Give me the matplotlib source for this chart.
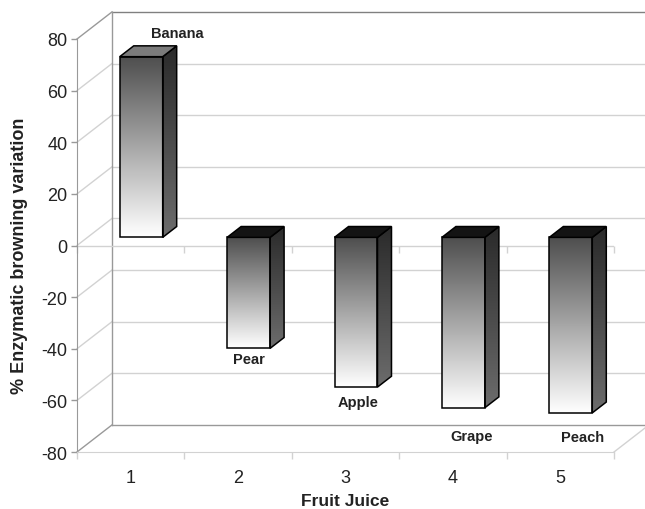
import numpy as np
import matplotlib.pyplot as plt
from matplotlib.colors import LinearSegmentedColormap
from matplotlib.patches import Polygon

# data
juices = ['Banana', 'Pear', 'Apple', 'Grape', 'Peach']
positions = [1, 2, 3, 4, 5]
browning = [70, -43, -58, -66, -68]
yticks = [-80, -60, -40, -20, 0, 20, 40, 60, 80]

plt.rcParams['font.family'] = ['Liberation Sans', 'DejaVu Sans']
plt.rcParams['axes.unicode_minus'] = False

# fake 3D box: depth offset of the back wall in data units
DX, DY = 0.326, 10.5
D0, BD = 0.3, 0.4      # bar position in depth and bar depth (fraction of box)
W = 0.40               # bar width in categories

LIGHT = '#d2d2d2'
FRAME = '#999999'

fig = plt.figure(figsize=(6.45, 5.1), dpi=100)
ax = fig.add_axes([77 / 645, 57 / 510, 537 / 645, 413 / 510])

x0, x1 = 0.5, len(positions) + 0.5
ylo, yhi = yticks[0], yticks[-1]

# back wall and side wall grid
for t in yticks:
    edge = t in (ylo, yhi)
    c = FRAME if edge else LIGHT
    ax.plot([x0 + DX, x1 + DX + 0.3], [t + DY, t + DY],
            color='#808080' if t == yhi else c, lw=1, clip_on=False, zorder=1)
    ax.plot([x0, x0 + DX], [t, t + DY], color=c, lw=1, clip_on=False, zorder=1)
ax.plot([x0 + DX, x0 + DX], [ylo + DY, yhi + DY], color=FRAME, lw=1,
        clip_on=False, zorder=1)
ax.plot([x1, x1 + DX], [ylo, ylo + DY], color=LIGHT, lw=1, clip_on=False, zorder=1)

# category axis at zero
bounds = np.arange(x0, x1 + 0.01, 1.0)
ax.plot([x0, x1], [0, 0], color=LIGHT, lw=1, zorder=1)
ax.plot(bounds, np.zeros_like(bounds), ls='none', marker=3, ms=5,
        mew=1, color=LIGHT, zorder=1, clip_on=False)

# bars
front_cmap = LinearSegmentedColormap.from_list('front', ['#4e4e4e', '#ffffff'])
side_cmap = LinearSegmentedColormap.from_list('side', ['#2a2a2a', '#6c6c6c'])
grad = np.linspace(0, 1, 256).reshape(-1, 1)
bx, by = BD * DX, BD * DY
anchors = []
for c, v in zip(positions, browning):
    xl = c + D0 * DX - W / 2
    xr = xl + W
    y_lo = min(v, 0) + D0 * DY
    y_hi = max(v, 0) + D0 * DY

    ax.imshow(grad, cmap=front_cmap, extent=[xl, xr, y_lo, y_hi],
              aspect='auto', origin='upper', zorder=3, interpolation='bilinear')
    ax.add_patch(Polygon([(xl, y_lo), (xr, y_lo), (xr, y_hi), (xl, y_hi)],
                         closed=True, fill=False, ec='black', lw=1.1, zorder=4))

    side = Polygon([(xr, y_lo), (xr + bx, y_lo + by), (xr + bx, y_hi + by), (xr, y_hi)],
                   closed=True, fill=False, ec='black', lw=1.1, zorder=4)
    ax.add_patch(side)
    im = ax.imshow(grad, cmap=side_cmap, extent=[xr, xr + bx, y_lo, y_hi + by],
                   aspect='auto', origin='upper', zorder=3, interpolation='bilinear')
    im.set_clip_path(side)

    top_col = '#7b7b7b' if v > 0 else '#141414'
    ax.add_patch(Polygon([(xl, y_hi), (xr, y_hi), (xr + bx, y_hi + by), (xl + bx, y_hi + by)],
                         closed=True, fc=top_col, ec='black', lw=1.1, zorder=4))

    anchors.append((xl + W / 2, v + D0 * DY))

# bar labels (pixel offsets from the bar end)
label_offsets = [(36, 24), (0, -11), (2, -15), (8, -28), (12, -24)]
for name, (ax_x, ax_y), off in zip(juices, anchors, label_offsets):
    ax.annotate(name, (ax_x, ax_y), xytext=off, textcoords='offset pixels',
                ha='center', va='center', fontsize=10.5, fontweight='bold',
                color='#222222', zorder=5)

ax.set_xlim(x0, x1)
ax.set_ylim(ylo, yhi)

ax.set_yticks(yticks)
ax.tick_params(axis='y', direction='out', length=4, width=1, color=FRAME,
               labelsize=13, labelcolor='#222222', pad=3)
ax.set_xticks(bounds)
ax.set_xticklabels([])
ax.set_xticks(positions, minor=True)
ax.set_xticklabels([str(p) for p in positions], minor=True)
ax.tick_params(axis='x', which='major', direction='out', length=5, width=1, color=LIGHT)
ax.tick_params(axis='x', which='minor', length=0, labelsize=13,
               labelcolor='#222222', pad=12)

for s in ('top', 'right'):
    ax.spines[s].set_visible(False)
ax.spines['left'].set_color(FRAME)
ax.spines['bottom'].set_color(LIGHT)
ax.set_facecolor('none')

fig.text(19.5 / 645, 1 - 255.5 / 510, '% Enzymatic browning variation',
         rotation=90, ha='center', va='center', fontsize=13, fontweight='bold',
         color='#222222')
fig.text(345 / 645, 1 - 502 / 510, 'Fruit Juice', ha='center', va='center',
         fontsize=12.5, fontweight='bold', color='#222222')

fig.savefig('out.png', dpi=100)
